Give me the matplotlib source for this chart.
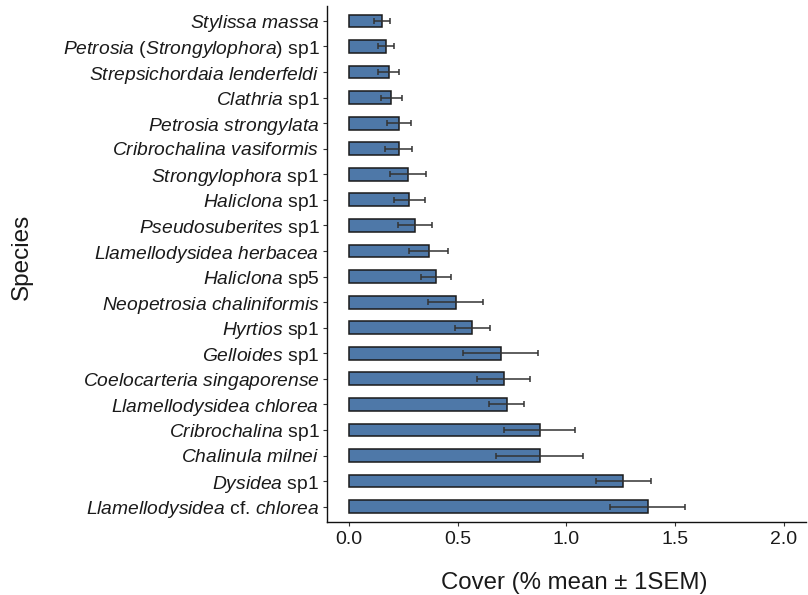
import matplotlib
matplotlib.use("Agg")
import matplotlib.pyplot as plt
import numpy as np

plt.rcParams['font.family'] = ['Liberation Sans', 'DejaVu Sans']
plt.rcParams['mathtext.fontset'] = 'custom'
plt.rcParams['mathtext.rm'] = 'Liberation Sans'
plt.rcParams['mathtext.it'] = 'Liberation Sans:italic'

species = [
    "Stylissa massa",
    "Petrosia (Strongylophora) sp1",
    "Strepsichordaia lenderfeldi",
    "Clathria sp1",
    "Petrosia strongylata",
    "Cribrochalina vasiformis",
    "Strongylophora sp1",
    "Haliclona sp1",
    "Pseudosuberites sp1",
    "Llamellodysidea herbacea",
    "Haliclona sp5",
    "Neopetrosia chaliniformis",
    "Hyrtios sp1",
    "Gelloides sp1",
    "Coelocarteria singaporense",
    "Llamellodysidea chlorea",
    "Cribrochalina sp1",
    "Chalinula milnei",
    "Dysidea sp1",
    "Llamellodysidea cf. chlorea",
]
cover_mean = [0.153, 0.173, 0.183, 0.195, 0.230, 0.230, 0.272, 0.278, 0.306, 0.367,
              0.402, 0.491, 0.568, 0.698, 0.712, 0.726, 0.877, 0.877, 1.263, 1.375]
cover_sem = [0.037, 0.037, 0.050, 0.049, 0.055, 0.062, 0.083, 0.072, 0.078, 0.088,
             0.070, 0.125, 0.080, 0.171, 0.123, 0.079, 0.165, 0.200, 0.125, 0.173]
x_ticks = [0.0, 0.5, 1.0, 1.5, 2.0]
x_tick_labels = ["0.0", "0.5", "1.0", "1.5", "2.0"]

plain_tokens = {"sp1", "sp5", "cf."}

def fmt_label(name):
    out = []
    for tok in name.split(" "):
        if tok in plain_tokens:
            out.append(tok)
        elif tok.startswith("(") and tok.endswith(")"):
            out.append("($\\mathit{" + tok[1:-1] + "}$)")
        else:
            out.append("$\\mathit{" + tok + "}$")
    s = " ".join(out)
    s = s.replace("}$ $\\mathit{", "\\ ")
    return s

fig = plt.figure(figsize=(8.08, 5.95), dpi=100)
ax = fig.add_axes([0.4047, 0.1227, 0.5923, 0.8679])

n = len(species)
ypos = np.arange(n, 0, -1)
ax.barh(ypos, cover_mean, height=0.5, color="#4e78a8", edgecolor="#1a1a1a", linewidth=1.1, zorder=2)
ax.errorbar(cover_mean, ypos, xerr=cover_sem, fmt="none", ecolor="#333333",
            elinewidth=1.1, capsize=2.3, capthick=1.1, zorder=3)

ax.set_xlim(-0.1, 2.1)
ax.set_ylim(0.4, n + 0.6)
ax.set_yticks(ypos)
ax.set_yticklabels([fmt_label(s) for s in species])
ax.set_xticks(x_ticks)
ax.set_xticklabels(x_tick_labels)

for side in ["top", "right"]:
    ax.spines[side].set_visible(False)
for side in ["left", "bottom"]:
    ax.spines[side].set_linewidth(1.0)
    ax.spines[side].set_color("#111111")

ax.tick_params(axis="y", length=3, width=0.8, color="#333333", labelsize=13.9, pad=2.5, labelcolor="#1a1a1a")
ax.tick_params(axis="x", length=3, width=0.8, color="#333333", labelsize=14, pad=3.5, labelcolor="#1a1a1a")

fig.text(0.711, 0.0202, "Cover (% mean ± 1SEM)", fontsize=17.3, ha="center", va="center", color="#1a1a1a")
fig.text(0.0272, 0.5686, "Species", rotation=90, fontsize=17.5, ha="center", va="center", color="#1a1a1a")

fig.savefig("out.png", dpi=100)
